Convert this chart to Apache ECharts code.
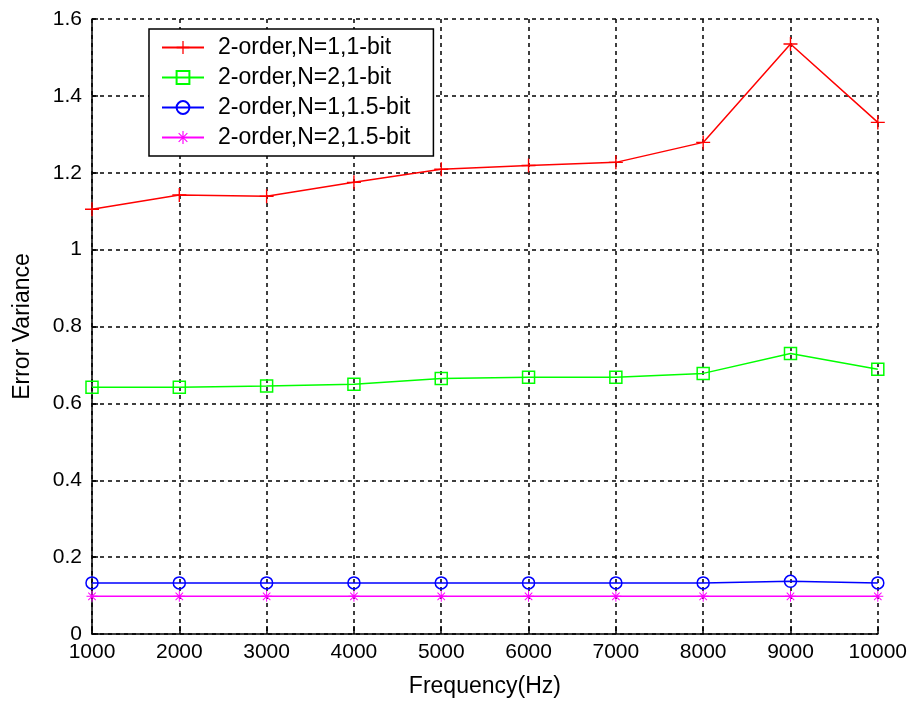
<!DOCTYPE html>
<html><head><meta charset="utf-8">
<script src="https://cdn.jsdelivr.net/npm/echarts@6/dist/echarts.min.js"></script>
<style>html,body{margin:0;padding:0;background:#fff}#c{width:910px;height:703px}</style>
</head><body><div id="c"></div>
<script>
const freqs = [1000,2000,3000,4000,5000,6000,7000,8000,9000,10000];
const seriesNames = ['2-order,N=1,1-bit','2-order,N=2,1-bit','2-order,N=1,1.5-bit','2-order,N=2,1.5-bit'];
const redVals = [1.105,1.142,1.139,1.175,1.209,1.219,1.227,1.279,1.535,1.331];
const greenVals = [0.642,0.642,0.645,0.650,0.665,0.668,0.668,0.678,0.730,0.689];
const blueVals = [0.133,0.133,0.133,0.133,0.133,0.133,0.133,0.133,0.137,0.133];
const magentaVals = [0.098,0.098,0.098,0.098,0.098,0.098,0.098,0.098,0.098,0.098];
const yTicks = [0,0.2,0.4,0.6,0.8,1,1.2,1.4,1.6];

const FONT = 'Liberation Sans, Arial, sans-serif';
const plusPath = 'path://M0,4.5h10v1h-10z M4.5,0h1v10h-1z';
const starPath = 'path://M0,4.55h10v0.9h-10z M4.55,0h0.9v10h-0.9z M1.3,1.9L1.9,1.3L8.7,8.1L8.1,8.7z M8.1,1.3L8.7,1.9L1.9,8.7L1.3,8.1z';

function pairs(vals){ return freqs.map((f,i)=>[f, vals[i]]); }

function mk(name, vals, color, symbol, size, hollow){
  return {
    name, type:'line', data: pairs(vals), symbol, symbolSize:size, showAllSymbol:true,
    lineStyle:{color, width:1.5},
    itemStyle: hollow ? {color:'rgba(0,0,0,0)', borderColor:color, borderWidth:1.5} : {color, borderWidth:0},
    emphasis:{disabled:true}, animation:false, z:5
  };
}

const chart = echarts.init(document.getElementById('c'), null, {renderer:'canvas'});
chart.setOption({
  animation:false,
  backgroundColor:'#fff',
  grid:{left:92, right:32, top:19, bottom:66, containLabel:false},
  legend:{
    left:149, top:29, orient:'vertical',
    backgroundColor:'#fff', borderColor:'#000', borderWidth:1.5, borderRadius:0,
    padding:[7,23,7,12], itemGap:7, itemWidth:42, itemHeight:16,
    textStyle:{fontFamily:FONT, fontSize:23, color:'#000', lineHeight:20, padding:[0,0,0,9]},
    data: seriesNames, selectedMode:false
  },
  xAxis:{
    type:'value', min:1000, max:10000, interval:1000,
    name:'Frequency(Hz)', nameLocation:'middle', nameGap:41,
    nameTextStyle:{fontFamily:FONT, fontSize:23, color:'#000'},
    axisLine:{show:true, onZero:false, lineStyle:{color:'#000', width:1.5}},
    axisTick:{show:true, inside:true, length:8, lineStyle:{color:'#000', width:1.5}},
    axisLabel:{fontFamily:FONT, fontSize:21, color:'#000', margin:8, formatter: v => String(v)},
    splitLine:{show:true, lineStyle:{color:'#000', type:[4,4], width:1.5}}
  },
  yAxis:{
    type:'value', min:0, max:1.6, interval:0.2,
    name:'Error Variance', nameLocation:'middle', nameGap:58,
    nameTextStyle:{fontFamily:FONT, fontSize:23, color:'#000'},
    axisLine:{show:true, lineStyle:{color:'#000', width:1.5}},
    axisTick:{show:true, inside:true, length:6, lineStyle:{color:'#000', width:1.5}},
    axisLabel:{fontFamily:FONT, fontSize:21, color:'#000', margin:10,
      formatter: v => { const t = yTicks.find(y => Math.abs(y - v) < 1e-9); return t === undefined ? '' : String(t); }},
    splitLine:{show:true, lineStyle:{color:'#000', type:[4,4], width:1.5}}
  },
  series:[
    mk(seriesNames[0], redVals, '#ff0000', plusPath, 14, false),
    mk(seriesNames[1], greenVals, '#00ff00', 'rect', 12, true),
    mk(seriesNames[2], blueVals, '#0000ff', 'circle', 12, true),
    mk(seriesNames[3], magentaVals, '#ff00ff', starPath, 11, false)
  ]
});
</script></body></html>
